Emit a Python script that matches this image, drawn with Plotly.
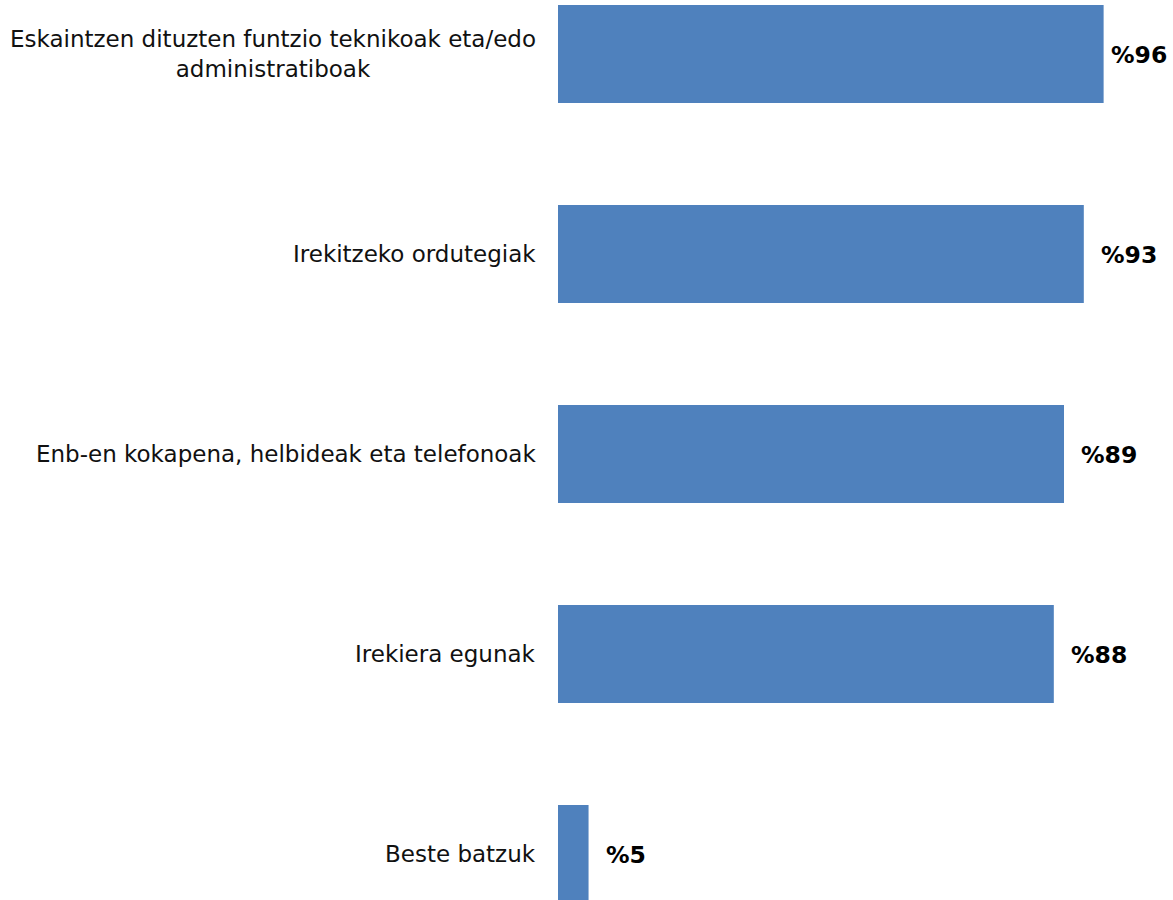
import plotly.graph_objects as go

categories = [
    "Eskaintzen dituzten funtzio teknikoak eta/edo<br>administratiboak",
    "Irekitzeko ordutegiak",
    "Enb-en kokapena, helbideak eta telefonoak",
    "Irekiera egunak",
    "Beste batzuk",
]
values = [96.4, 92.9, 89.4, 87.6, 5.4]
value_labels = ["%96", "%93", "%89", "%88", "%5"]

ypos = list(range(len(categories)))

PX_PER_UNIT = 5.66
LEFT = 558
WIDTH = 1173

fig = go.Figure()
fig.add_trace(go.Bar(
    x=values, y=ypos, orientation="h",
    marker=dict(color="#4F81BD", line=dict(width=0)),
    width=0.49, hoverinfo="skip",
))

font_family = "'DejaVu Sans', sans-serif"
for i, (c, v, lab) in enumerate(zip(categories, values, value_labels)):
    fig.add_annotation(
        x=0, y=i, xref="x", yref="y", text=c, showarrow=False,
        xanchor="right", yanchor="middle", align="center", xshift=-20,
        font=dict(family=font_family, size=23, color="#111111"),
    )
    bar_end = LEFT + v * PX_PER_UNIT
    label_w = 18 * len(lab)
    shift = min(15, WIDTH - 10 - label_w - bar_end)
    fig.add_annotation(
        x=v, y=i, xref="x", yref="y", text="<b>" + lab + "</b>", showarrow=False,
        xanchor="left", yanchor="middle", xshift=shift, yshift=-1,
        font=dict(family=font_family, size=23.5, color="#000000"),
    )

fig.update_layout(
    width=WIDTH, height=900,
    margin=dict(l=LEFT, r=0, t=0, b=0),
    plot_bgcolor="white", paper_bgcolor="white",
    showlegend=False,
    xaxis=dict(range=[0, (WIDTH - LEFT) / PX_PER_UNIT], visible=False, fixedrange=True),
    yaxis=dict(range=[4.23, -0.27], visible=False, fixedrange=True),
)

fig.write_html("out.html")
